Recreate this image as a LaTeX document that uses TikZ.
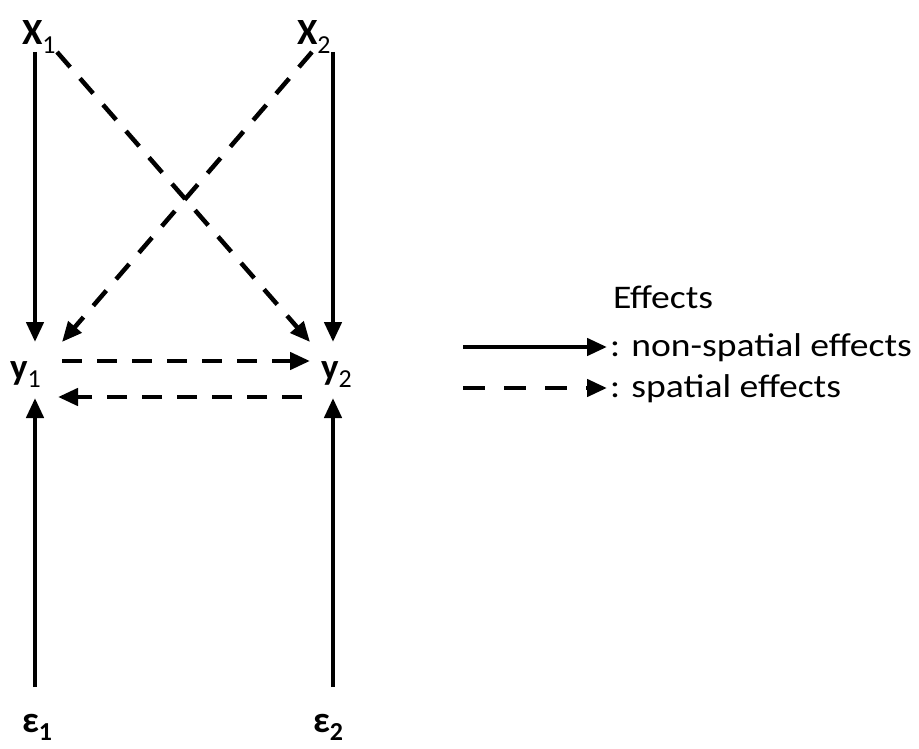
\documentclass[tikz,border=0pt]{standalone}
\usepackage{fontspec}
\setmainfont{Carlito}
\newfontfamily\legfont{Carlito}[FakeStretch=1.14]
\usetikzlibrary{arrows.meta}

\begin{document}
\begin{tikzpicture}[
  x=1pt, y=-1pt,
  var/.style={inner sep=0pt, outer sep=0pt, anchor=base west,
    font=\fontsize{37}{40}\selectfont\bfseries},
  leg/.style={inner sep=0pt, outer sep=0pt, anchor=base west,
    font=\legfont\fontsize{33}{38}\selectfont},
  eff/.style={line width=4.5pt, -{Triangle[length=20pt,width=17pt]}},
  spat/.style={eff, dash pattern=on 20pt off 15pt},
  legspat/.style={eff, dash pattern=on 22pt off 19pt}
]
\useasboundingbox (0,0) rectangle (919,749);
% variables
\node[var] (x1) at (22,45) {X\textsubscript{\mdseries 1}};
\node[var] (x2) at (297,45) {X\textsubscript{\mdseries 2}};
\node[var] (y1) at (10,379) {y\textsubscript{\mdseries 1}};
\node[var] (y2) at (321,379) {y\textsubscript{\mdseries 2}};
\node[var] (e1) at (22,732) {ε\textsubscript{1}};
\node[var] (e2) at (313,732) {ε\textsubscript{2}};
% non-spatial effects
\draw[eff] ([xshift=13pt,yshift=-7pt]x1.base west) -- ([xshift=25pt,yshift=37pt]y1.base west);
\draw[eff] ([xshift=36pt,yshift=-7pt]x2.base west) -- ([xshift=12pt,yshift=37pt]y2.base west);
\draw[eff] ([xshift=13pt,yshift=45pt]e1.base west) -- ([xshift=25pt,yshift=-19pt]y1.base west);
\draw[eff] ([xshift=20pt,yshift=45pt]e2.base west) -- ([xshift=12pt,yshift=-19pt]y2.base west);
% spatial effects
\draw[spat] ([xshift=35pt,yshift=-7pt]x1.base west) -- ([xshift=-11pt,yshift=37pt]y2.base west);
\draw[spat] ([xshift=15pt,yshift=-7pt]x2.base west) -- ([xshift=52pt,yshift=37pt]y1.base west);
\draw[spat] ([xshift=52pt,yshift=18pt]y1.base west) -- ([xshift=-11pt,yshift=18pt]y2.base west);
\draw[spat] ([xshift=-19pt,yshift=-18pt]y2.base west) -- ([xshift=48pt,yshift=-18pt]y1.base west);
% legend
\node[leg] (efftitle) at (613,308) {Effects};
\node[leg] (nonsp) at (610,356) {: non-spatial effects};
\node[leg] (sp) at (610,397) {: spatial effects};
\coordinate (nonspstart) at (463,347);
\coordinate (spstart) at (463,388);
\draw[eff] (nonspstart) -- ([xshift=-3pt,yshift=9pt]nonsp.base west);
\draw[legspat] (spstart) -- ([xshift=-3pt,yshift=9pt]sp.base west);
\end{tikzpicture}
\end{document}
